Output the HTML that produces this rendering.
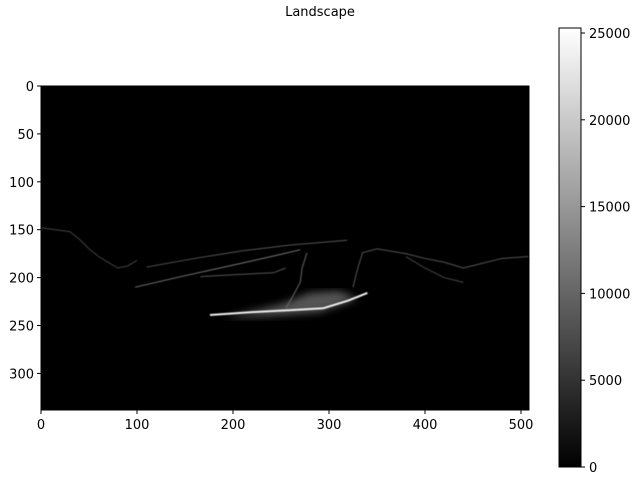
<!DOCTYPE html>
<html><head><meta charset="utf-8"><style>
body{margin:0;background:#fff;font-family:"Liberation Sans","DejaVu Sans",sans-serif}
svg text{font-family:"DejaVu Sans","Liberation Sans",sans-serif;font-size:13px;fill:#000}
</style></head><body>
<svg width="640" height="480">
<defs>
<linearGradient id="cb" x1="0" y1="1" x2="0" y2="0"><stop offset="0" stop-color="#000"/><stop offset="1" stop-color="#fff"/></linearGradient>
<filter id="gl"><feGaussianBlur stdDeviation="4"/></filter>
<filter id="sl"><feGaussianBlur stdDeviation="0.4"/></filter>
</defs>
<text x="320" y="16" text-anchor="middle">Landscape</text>
<rect x="41" y="86" width="488" height="324" fill="#000"/>
<g id="marks"></g>
<rect x="41" y="86" width="488" height="324" fill="none" stroke="#000"/>
<g id="xt"></g><g id="yt"></g>
<rect x="559" y="28" width="22" height="439" fill="url(#cb)" stroke="#000"/>
<g id="ct"></g>
</svg>
<script>
const xTicks=[0,100,200,300,400,500];
const yTicks=[0,50,100,150,200,250,300];
const cbTicks=[0,5000,10000,15000,20000,25000];
const leftCoast=[[0,148],[15,150],[30,152],[40,160],[50,170],[60,178],[70,184],[80,190],[90,188],[100,182]];
const line1=[[98,210],[150,198],[200,187],[240,178],[270,171]];
const line2=[[110,189],[160,180],[210,172],[260,166],[319,161]];
const line3=[[166,199],[200,197],[242,195],[255,190]];
const peninsula=[[277,174],[272,190],[270,205],[262,220],[255,232]];
const brightBand=[[176,239],[220,236],[260,234],[294,232],[320,224],[340,216]];
const rightCoast=[[325,210],[330,190],[335,174],[350,170],[380,175],[400,180],[420,184],[440,190],[460,185],[480,180],[508,178]];
const rightBranch=[[380,178],[400,190],[420,200],[440,205]];
const glowRegion=[[190,242],[240,240],[290,236],[330,222],[310,214],[280,216],[250,228]];
const X=d=>41+d*0.96, Y=d=>86+d*0.958, CY=v=>467-v*(434/25000);
const ns="http://www.w3.org/2000/svg";
const mk=(t,a,p)=>{const e=document.createElementNS(ns,t);for(const k in a)e.setAttribute(k,a[k]);p.appendChild(e);return e;};
const marks=document.getElementById('marks');
const pts=a=>a.map(p=>X(p[0])+','+Y(p[1])).join(' ');
let g=mk('polygon',{points:pts(glowRegion),fill:'#555',filter:'url(#gl)'},marks);


const lines=[[leftCoast,'#444','left-coast'],[line1,'#777','line-1'],[line2,'#555','line-2'],[line3,'#555','line-3'],[peninsula,'#666','peninsula'],[rightCoast,'#555','right-coast'],[rightBranch,'#444','right-branch'],[brightBand,'#eee','bright-band']];
lines.forEach(([a,c,n])=>{const e=mk('polyline',{points:pts(a),fill:'none',stroke:c,'stroke-width':n==='bright-band'?2:1,filter:'url(#sl)'},marks);

});
const xt=document.getElementById('xt');
xTicks.forEach(v=>{mk('line',{x1:X(v),x2:X(v),y1:410,y2:414,stroke:'#000'},xt);const t=mk('text',{x:X(v),y:429,'text-anchor':'middle'},xt);t.textContent=v;

});
const yt=document.getElementById('yt');
yTicks.forEach(v=>{mk('line',{x1:37,x2:41,y1:Y(v),y2:Y(v),stroke:'#000'},yt);const t=mk('text',{x:34,y:Y(v)+5,'text-anchor':'end'},yt);t.textContent=v;

});
const ct=document.getElementById('ct');
cbTicks.forEach(v=>{mk('line',{x1:581,x2:585,y1:CY(v),y2:CY(v),stroke:'#000'},ct);const t=mk('text',{x:589,y:CY(v)+5},ct);t.textContent=v;

});
</script>
</body></html>
